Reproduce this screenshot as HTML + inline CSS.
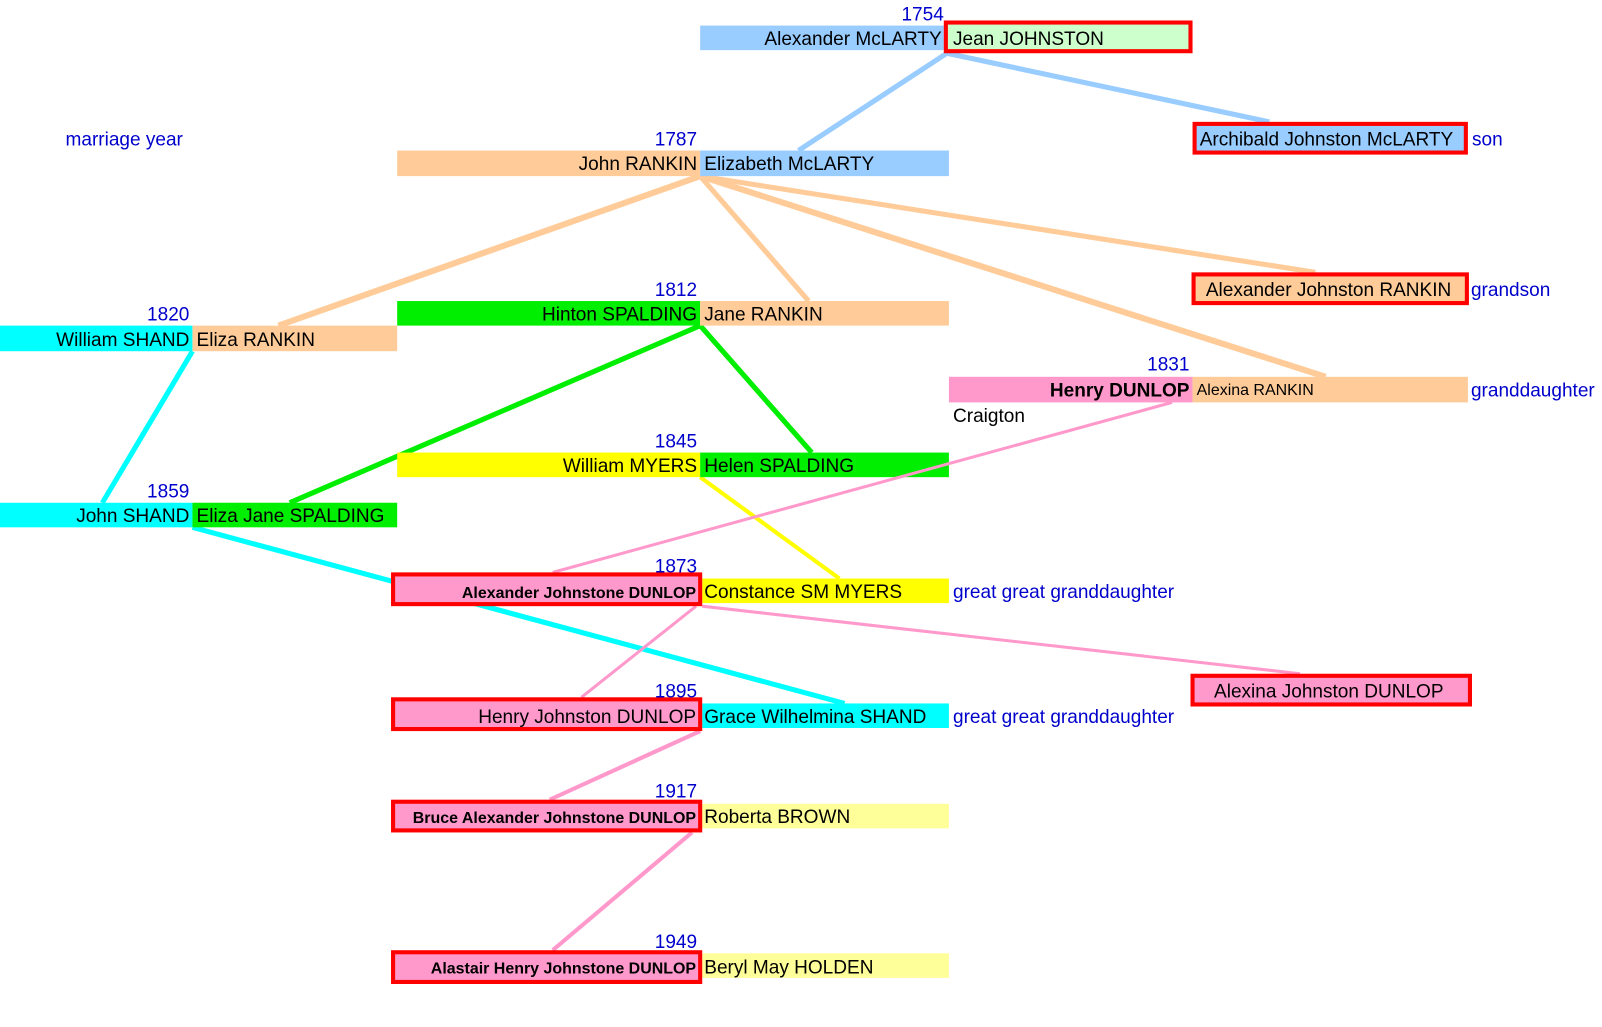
<!DOCTYPE html>
<html><head><meta charset="utf-8"><style>
html,body{margin:0;padding:0;background:#fff;overflow:hidden}
svg{display:block}
text{font-family:"Liberation Sans",Arial,sans-serif;font-size:18.6px}
.y{fill:#0000cc}
.s{font-size:15.6px;font-weight:bold}
.sm{font-size:15.6px}
</style></head><body>
<svg width="1602" height="1027" viewBox="0 0 1565 1003" preserveAspectRatio="none" xmlns="http://www.w3.org/2000/svg">
<g stroke-linecap="butt" fill="none">
<line x1="925" y1="52" x2="780" y2="147" stroke="#99ccff" stroke-width="5"/>
<line x1="925" y1="52" x2="1240" y2="119" stroke="#99ccff" stroke-width="5"/>
<line x1="684" y1="172" x2="272" y2="318" stroke="#ffcc99" stroke-width="6"/>
<line x1="684" y1="172" x2="790" y2="294" stroke="#ffcc99" stroke-width="5"/>
<line x1="684" y1="172" x2="1285" y2="266" stroke="#ffcc99" stroke-width="5"/>
<line x1="684" y1="172" x2="1295" y2="368" stroke="#ffcc99" stroke-width="6"/>
<line x1="684" y1="318" x2="283" y2="491" stroke="#00ee00" stroke-width="5"/>
<line x1="684" y1="318" x2="793" y2="442" stroke="#00ee00" stroke-width="5"/>
<line x1="188" y1="343" x2="100" y2="491" stroke="#00ffff" stroke-width="5"/>
<line x1="188" y1="515" x2="825" y2="687" stroke="#00ffff" stroke-width="5"/>
<line x1="684" y1="466" x2="820" y2="565" stroke="#ffff00" stroke-width="4"/>
<line x1="686" y1="592" x2="1270" y2="658" stroke="#ff99cc" stroke-width="3"/>
<line x1="680" y1="592" x2="568" y2="681" stroke="#ff99cc" stroke-width="3"/>
<line x1="684" y1="714" x2="537" y2="781" stroke="#ff99cc" stroke-width="4"/>
<line x1="676" y1="813" x2="540" y2="928" stroke="#ff99cc" stroke-width="4"/>
</g>
<rect x="684" y="25" width="238" height="24" fill="#99ccff"/>
<rect x="924" y="22" width="239" height="28" fill="#ccffcc" stroke="#ff0000" stroke-width="4"/>
<rect x="388" y="147" width="296" height="25" fill="#ffcc99"/>
<rect x="684" y="147" width="243" height="25" fill="#99ccff"/>
<rect x="1167" y="121" width="265" height="28" fill="#99ccff" stroke="#ff0000" stroke-width="4"/>
<rect x="388" y="294" width="296" height="24" fill="#00ee00"/>
<rect x="684" y="294" width="243" height="24" fill="#ffcc99"/>
<rect x="0" y="318" width="188" height="25" fill="#00ffff"/>
<rect x="188" y="318" width="200" height="25" fill="#ffcc99"/>
<rect x="1166" y="268" width="267" height="28" fill="#ffcc99" stroke="#ff0000" stroke-width="4"/>
<rect x="927" y="368" width="238" height="25" fill="#ff99cc"/>
<rect x="1165" y="368" width="269" height="25" fill="#ffcc99"/>
<rect x="388" y="442" width="296" height="24" fill="#ffff00"/>
<rect x="684" y="442" width="243" height="24" fill="#00ee00"/>
<line x1="1145" y1="393" x2="540" y2="559" stroke="#ff99cc" stroke-width="3"/>
<rect x="0" y="491" width="188" height="24" fill="#00ffff"/>
<rect x="188" y="491" width="200" height="24" fill="#00ee00"/>
<rect x="686" y="565" width="241" height="24" fill="#ffff00"/>
<rect x="384" y="561" width="300" height="29" fill="#ff99cc" stroke="#ff0000" stroke-width="4"/>
<rect x="1165" y="660" width="271" height="28" fill="#ff99cc" stroke="#ff0000" stroke-width="4"/>
<rect x="686" y="687" width="241" height="24" fill="#00ffff"/>
<rect x="384" y="683" width="300" height="29" fill="#ff99cc" stroke="#ff0000" stroke-width="4"/>
<rect x="686" y="785" width="241" height="24" fill="#ffff99"/>
<rect x="384" y="783" width="300" height="28" fill="#ff99cc" stroke="#ff0000" stroke-width="4"/>
<rect x="686" y="931" width="241" height="24" fill="#ffff99"/>
<rect x="384" y="930" width="300" height="29" fill="#ff99cc" stroke="#ff0000" stroke-width="4"/>
<text x="64" y="142" class="y">marriage year</text>
<text x="922" y="20" class="y" text-anchor="end">1754</text>
<text x="920" y="44" text-anchor="end">Alexander McLARTY</text>
<text x="931" y="44">Jean JOHNSTON</text>
<text x="681" y="142" class="y" text-anchor="end">1787</text>
<text x="681" y="166" text-anchor="end">John RANKIN</text>
<text x="688" y="166">Elizabeth McLARTY</text>
<text x="1172" y="142">Archibald Johnston McLARTY</text>
<text x="1438" y="142" class="y">son</text>
<text x="681" y="289" class="y" text-anchor="end">1812</text>
<text x="681" y="313" text-anchor="end">Hinton SPALDING</text>
<text x="688" y="313">Jane RANKIN</text>
<text x="185" y="313" class="y" text-anchor="end">1820</text>
<text x="185" y="338" text-anchor="end">William SHAND</text>
<text x="192" y="338">Eliza RANKIN</text>
<text x="1178" y="289">Alexander Johnston RANKIN</text>
<text x="1437" y="289" class="y">grandson</text>
<text x="1162" y="362" class="y" text-anchor="end">1831</text>
<text x="1162" y="387" text-anchor="end" font-weight="bold">Henry DUNLOP</text>
<text x="1169" y="386" class="sm">Alexina RANKIN</text>
<text x="1437" y="387" class="y">granddaughter</text>
<text x="931" y="412">Craigton</text>
<text x="681" y="437" class="y" text-anchor="end">1845</text>
<text x="681" y="461" text-anchor="end">William MYERS</text>
<text x="688" y="461">Helen SPALDING</text>
<text x="185" y="486" class="y" text-anchor="end">1859</text>
<text x="185" y="510" text-anchor="end">John SHAND</text>
<text x="192" y="510">Eliza Jane SPALDING</text>
<text x="681" y="559" class="y" text-anchor="end">1873</text>
<text x="680" y="584" class="s" text-anchor="end">Alexander Johnstone DUNLOP</text>
<text x="688" y="584">Constance SM MYERS</text>
<text x="931" y="584" class="y">great great granddaughter</text>
<text x="1186" y="681">Alexina Johnston DUNLOP</text>
<text x="681" y="681" class="y" text-anchor="end">1895</text>
<text x="680" y="706" text-anchor="end">Henry Johnston DUNLOP</text>
<text x="688" y="706">Grace Wilhelmina SHAND</text>
<text x="931" y="706" class="y">great great granddaughter</text>
<text x="681" y="779" class="y" text-anchor="end">1917</text>
<text x="680" y="804" class="s" text-anchor="end">Bruce  Alexander Johnstone DUNLOP</text>
<text x="688" y="804">Roberta BROWN</text>
<text x="681" y="926" class="y" text-anchor="end">1949</text>
<text x="680" y="951" class="s" text-anchor="end">Alastair Henry Johnstone  DUNLOP</text>
<text x="688" y="951">Beryl May HOLDEN</text>
</svg>
</body></html>
